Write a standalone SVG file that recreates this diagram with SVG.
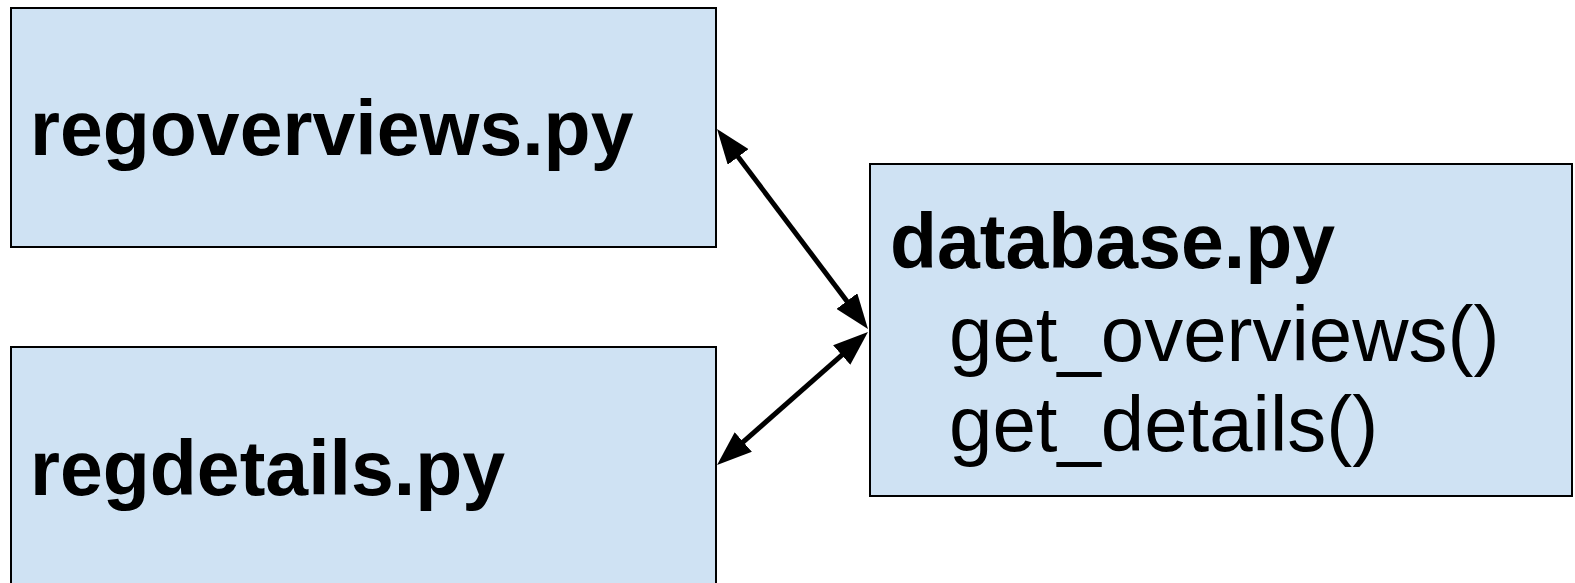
<svg xmlns="http://www.w3.org/2000/svg" width="1575" height="583" viewBox="0 0 1575 583">
<style>
.box{fill:#cfe2f3;stroke:#000;stroke-width:2}
.title{font-family:"Liberation Sans",Arial,sans-serif;font-weight:bold;font-size:77px;fill:#000}
.fn{font-family:"Liberation Sans",Arial,sans-serif;font-size:78px;fill:#000}
.conn{stroke:#000;stroke-width:5;fill:none;marker-start:url(#ah);marker-end:url(#ah)}
</style>
<defs>
<marker id="ah" viewBox="0 -13 35 26" refX="2" refY="0" markerWidth="35" markerHeight="26" markerUnits="userSpaceOnUse" orient="auto-start-reverse">
<path d="M0,-13 L35,0 L0,13 z" fill="#000"/>
</marker>
</defs>
<rect width="1575" height="583" fill="#fff"/>
<g id="regoverviews">
<rect class="box" x="11" y="8" width="705" height="239"/>
<text class="title" x="30" y="155">regoverviews.py</text>
</g>
<g id="regdetails">
<rect class="box" x="11" y="347" width="705" height="250"/>
<text class="title" x="30" y="495">regdetails.py</text>
</g>
<g id="database">
<rect class="box" x="870" y="164" width="702" height="332"/>
<text class="title" x="890" y="268">database.py</text>
<text class="fn" x="949" y="361">get_overviews()</text>
<text class="fn" x="949" y="451">get_details()</text>
</g>
<g id="connectors">
<path class="conn" d="M736.9,155.3 L848.1,302.7"/>
<path class="conn" d="M741.8,443.2 L843.2,353.8"/>
</g>
</svg>
